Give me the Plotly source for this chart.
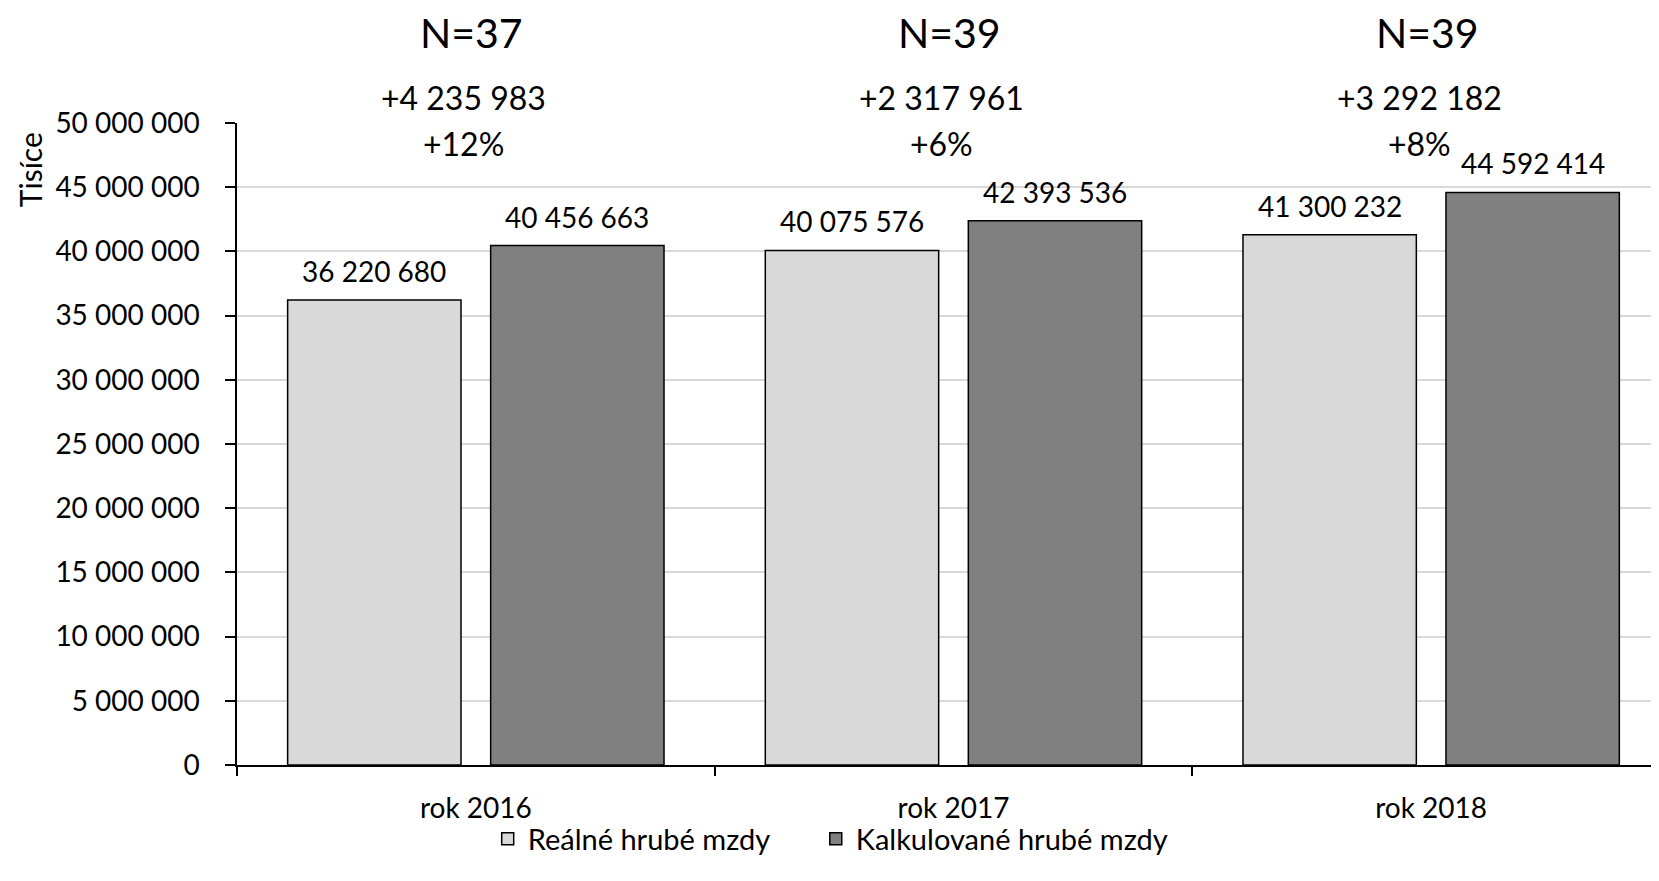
import plotly.graph_objects as go

categories = ["rok 2016", "rok 2017", "rok 2018"]
realne = [36220680, 40075576, 41300232]
kalkulovane = [40456663, 42393536, 44592414]
n_labels = ["N=37", "N=39", "N=39"]
diff_labels = ["+4 235 983", "+2 317 961", "+3 292 182"]
pct_labels = ["+12%", "+6%", "+8%"]
y_ticks = [0, 5000000, 10000000, 15000000, 20000000, 25000000, 30000000, 35000000, 40000000, 45000000, 50000000]

def fmt(v):
    return f"{v:,}".replace(",", " ")

FONT = "Lato"
fig = go.Figure()
fig.add_trace(go.Bar(name="Reálné hrubé mzdy", x=categories, y=realne, legend="legend", showlegend=True,
                     marker=dict(color="#d9d9d9", line=dict(color="black", width=1.5))))
fig.add_trace(go.Bar(name="Kalkulované hrubé mzdy", x=categories, y=kalkulovane, legend="legend2", showlegend=True,
                     marker=dict(color="#808080", line=dict(color="black", width=1.5))))

ann = []
for c, v in zip(categories, realne):
    ann.append(dict(x=c, y=v, xref="x", yref="y", text=fmt(v), showarrow=False,
                    xanchor="center", yanchor="middle",
                    xshift=-101.6, yshift=29, font=dict(size=28, family=FONT, color="black")))
for c, v in zip(categories, kalkulovane):
    ann.append(dict(x=c, y=v, xref="x", yref="y", text=fmt(v), showarrow=False,
                    xanchor="center", yanchor="middle",
                    xshift=101.6, yshift=29, font=dict(size=28, family=FONT, color="black")))
for c, n, d, p in zip(categories, n_labels, diff_labels, pct_labels):
    ann.append(dict(x=c, y=1.141, xref="x", yref="paper", text=n, showarrow=False,
                    xanchor="center", yanchor="middle",
                    xshift=-4, font=dict(size=41, family=FONT, color="black")))
    ann.append(dict(x=c, y=1.040, xref="x", yref="paper", text=d, showarrow=False,
                    xanchor="center", yanchor="middle",
                    xshift=-12, font=dict(size=32, family=FONT, color="black")))
    ann.append(dict(x=c, y=0.968, xref="x", yref="paper", text=p, showarrow=False,
                    xanchor="center", yanchor="middle",
                    xshift=-12, font=dict(size=32, family=FONT, color="black")))
ann.append(dict(x=-0.1456, y=0.928, xref="paper", yref="paper", text="Tisíce", showarrow=False,
                xanchor="center", yanchor="middle",
                textangle=-90, font=dict(size=30, family=FONT, color="black")))

legend_common = dict(orientation="h", xanchor="left", y=-0.115, yanchor="middle", visible=True,
                     bgcolor="rgba(0,0,0,0)", font=dict(size=29, family=FONT, color="black"))

fig.update_layout(
    width=1651, height=873,
    margin=dict(l=229, r=0, t=115, b=116),
    paper_bgcolor="white", plot_bgcolor="white",
    showlegend=True,
    barmode="group", bargap=0.15, bargroupgap=0.146,
    font=dict(family=FONT, size=28, color="black"),
    annotations=ann,
    legend=dict(x=0.1763, **legend_common),
    legend2=dict(x=0.4070, **legend_common),
)
fig.update_xaxes(type="category", range=[-0.5, 2.477], showline=True, linecolor="black", linewidth=1.5,
                 ticks="outside", tickson="boundaries", ticklen=9, tickcolor="black", tickwidth=1.5,
                 ticklabelstandoff=18, showgrid=False, tickfont=dict(size=28, family=FONT))
fig.update_yaxes(range=[0, 50000000], tickvals=y_ticks, ticktext=[fmt(v) for v in y_ticks],
                 showline=True, linecolor="black", linewidth=1.5, ticks="outside", ticklen=10,
                 tickcolor="black", tickwidth=1.5, showgrid=True, gridcolor="#d9d9d9", gridwidth=1.5,
                 ticklabelstandoff=20, zeroline=False, tickfont=dict(size=28, family=FONT))

fig.write_html("out.html")
